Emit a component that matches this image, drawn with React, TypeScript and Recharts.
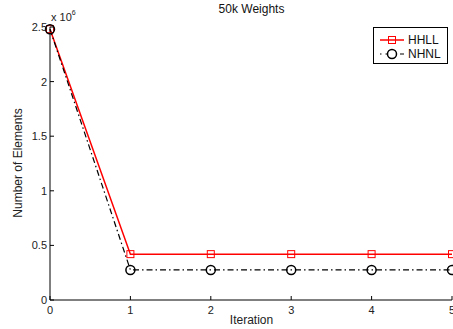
import { LineChart, Line, XAxis, YAxis } from "recharts";

// ---------------------------------------------------
// DATA
// ---------------------------------------------------
const iterations = [0, 1, 2, 3, 4, 5];
const hhll = [2.48, 0.42, 0.42, 0.42, 0.42, 0.42];
const nhnl = [2.48, 0.275, 0.275, 0.275, 0.275, 0.275];
const xTicks = [0, 1, 2, 3, 4, 5];
const yTicks = [0, 0.5, 1, 1.5, 2, 2.5];

const data = iterations.map((it, i) => ({ it, hhll: hhll[i], nhnl: nhnl[i] }));

const FONT = "'Liberation Sans', Arial, sans-serif";
const TICK_LEN = 4;

// ---------------------------------------------------
// TICKS (matlab style, pointing inward)
// ---------------------------------------------------
function BottomTick({ x, y, payload }: any) {
  const axisY = y - 6;
  return (
    <g>
      <line x1={x} x2={x} y1={axisY} y2={axisY - TICK_LEN} stroke="#000" />
      <text x={x} y={axisY + 14} textAnchor="middle" fontSize={11} fill="#222" fontFamily={FONT}>
        {payload.value}
      </text>
    </g>
  );
}

function LeftTick({ x, y, payload }: any) {
  const axisX = x + 4;
  return (
    <g>
      <line x1={axisX} x2={axisX + TICK_LEN} y1={y} y2={y} stroke="#000" />
      <text x={axisX - 3} y={y + 4} textAnchor="end" fontSize={11} fill="#222" fontFamily={FONT}>
        {payload.value}
      </text>
    </g>
  );
}

function TopTick({ x, y }: any) {
  return <line x1={x} x2={x} y1={y} y2={y + TICK_LEN} stroke="#000" />;
}

function RightTick({ x, y }: any) {
  return <line x1={x} x2={x - TICK_LEN} y1={y} y2={y} stroke="#000" />;
}

// ---------------------------------------------------
// MAIN COMPONENT
// ---------------------------------------------------
export default function App() {
  return (
    <div
      style={{
        position: "fixed",
        left: 0,
        top: 0,
        width: 453,
        height: 329,
        background: "#fff",
        fontFamily: FONT,
        overflow: "hidden",
      }}
    >
      <LineChart
        width={453}
        height={329}
        data={data}
        margin={{ top: 27, right: 1, left: 0, bottom: 0 }}
      >
        <XAxis
          dataKey="it"
          type="number"
          domain={[0, 5]}
          ticks={xTicks}
          tickSize={0}
          tickMargin={6}
          height={29}
          stroke="#000"
          tick={<BottomTick />}
          interval={0}
        />
        <XAxis
          xAxisId="top"
          orientation="top"
          dataKey="it"
          type="number"
          domain={[0, 5]}
          ticks={xTicks}
          tickSize={0}
          tickMargin={0}
          height={0}
          stroke="#000"
          tick={<TopTick />}
          interval={0}
        />
        <YAxis
          type="number"
          domain={[0, 2.5]}
          ticks={yTicks}
          tickSize={0}
          tickMargin={4}
          width={50}
          stroke="#000"
          tick={<LeftTick />}
          interval={0}
        />
        <YAxis
          yAxisId="right"
          orientation="right"
          type="number"
          domain={[0, 2.5]}
          ticks={yTicks}
          tickSize={0}
          tickMargin={0}
          width={0}
          stroke="#000"
          tick={<RightTick />}
          interval={0}
        />

        {/* HHLL: red solid, open squares */}
        <Line
          dataKey="hhll"
          type="linear"
          stroke="#ff0000"
          strokeWidth={1.5}
          isAnimationActive={false}
          dot={(p: any) => (
            <rect
              key={`s${p.index}`}
              x={p.cx - 3.5}
              y={p.cy - 3.5}
              width={7}
              height={7}
              fill="none"
              stroke="#ff0000"
              strokeWidth={1}
            />
          )}
          activeDot={false}
        />

        {/* NHNL: black dash-dot, open circles */}
        <Line
          dataKey="nhnl"
          type="linear"
          stroke="#000"
          strokeWidth={1.2}
          strokeDasharray="6 3 1.5 3"
          isAnimationActive={false}
          dot={(p: any) => (
            <circle
              key={`c${p.index}`}
              cx={p.cx}
              cy={p.cy}
              r={4.5}
              fill="none"
              stroke="#000"
              strokeWidth={1.5}
            />
          )}
          activeDot={false}
        />
      </LineChart>

      {/* Title */}
      <div
        style={{
          position: "absolute",
          left: 51,
          width: 401,
          top: 2,
          textAlign: "center",
          fontSize: 12,
          color: "#111",
        }}
      >
        50k Weights
      </div>

      {/* Exponent */}
      <div style={{ position: "absolute", left: 51, top: 11, fontSize: 11, color: "#222" }}>
        x 10<sup style={{ fontSize: 7, verticalAlign: "top", position: "relative", top: -2 }}>6</sup>
      </div>

      {/* Y label */}
      <div
        style={{
          position: "absolute",
          left: 18,
          top: 163,
          transform: "translate(-50%, -50%) rotate(-90deg)",
          whiteSpace: "nowrap",
          fontSize: 12,
          color: "#222",
        }}
      >
        Number of Elements
      </div>

      {/* X label */}
      <div
        style={{
          position: "absolute",
          left: 51,
          width: 401,
          top: 313,
          textAlign: "center",
          fontSize: 12,
          color: "#222",
        }}
      >
        Iteration
      </div>

      {/* Legend */}
      <div
        style={{
          position: "absolute",
          left: 373,
          top: 27,
          width: 73,
          height: 35,
          border: "1px solid #000",
          background: "#fff",
          fontSize: 12,
          color: "#111",
        }}
      >
        <svg width={30} height={35} style={{ position: "absolute", left: 4, top: 0 }}>
          <line x1={2} x2={26} y1={12} y2={12} stroke="#ff0000" strokeWidth={1.5} />
          <rect x={10.5} y={8.5} width={7} height={7} fill="none" stroke="#ff0000" />
          <line x1={2} x2={26} y1={26} y2={26} stroke="#000" strokeWidth={1.2} strokeDasharray="1.5 4 6 3" />
          <circle cx={14} cy={26} r={4.5} fill="#fff" stroke="#000" strokeWidth={1.5} />
        </svg>
        <div style={{ position: "absolute", left: 34, top: 5 }}>HHLL</div>
        <div style={{ position: "absolute", left: 34, top: 19 }}>NHNL</div>
      </div>
    </div>
  );
}
